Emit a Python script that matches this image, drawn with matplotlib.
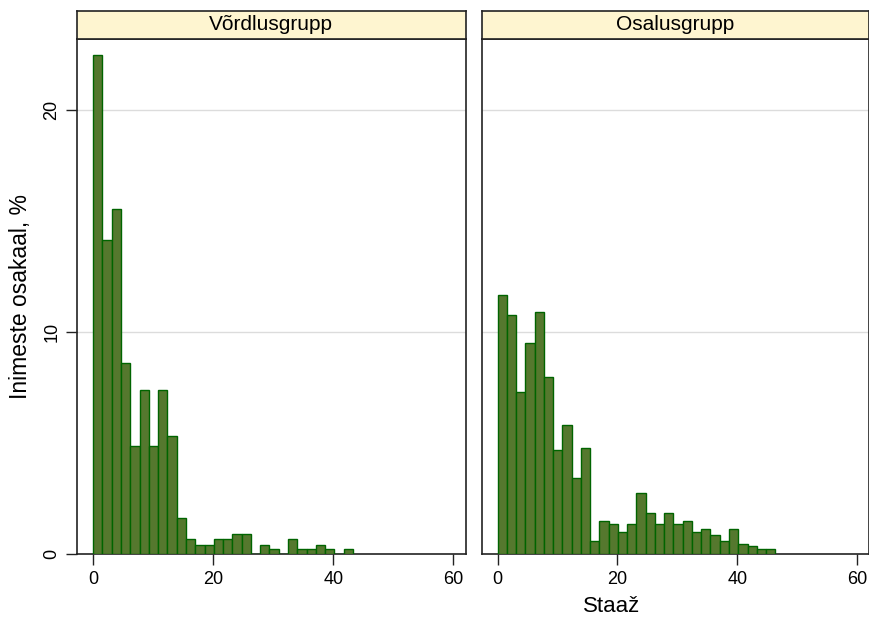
import numpy as np
import matplotlib.pyplot as plt

plt.rcParams['font.family'] = ['Liberation Sans', 'DejaVu Sans']

# histogram bins (same width in both panels, starting at 0)
bin_width = 1.545
vordlus = [22.5, 14.15, 15.55, 8.6, 4.88, 7.42, 4.88, 7.42, 5.33, 1.62,
           0.71, 0.44, 0.44, 0.71, 0.71, 0.93, 0.93, 0.0, 0.44, 0.22,
           0.0, 0.71, 0.22, 0.22, 0.44, 0.22, 0.0, 0.22]
osalus = [11.66, 10.78, 7.33, 9.51, 10.9, 7.99, 4.69, 5.82, 3.42, 4.81,
          0.61, 1.52, 1.37, 1.01, 1.37, 2.78, 1.88, 1.37, 1.88, 1.37,
          1.52, 1.01, 1.15, 0.87, 0.61, 1.15, 0.48, 0.36, 0.24, 0.24]
panels = ['Võrdlusgrupp', 'Osalusgrupp']
series = [vordlus, osalus]
xticks = [0, 20, 40, 60]
yticks = [0, 10, 20]

W, H = 869, 619
fig = plt.figure(figsize=(W / 100, H / 100), dpi=100)

lefts = [77, 481.5]
right_edges = [465.5, 869]
top_px, strip_top, bottom_px = 39.3, 10.7, 554.3
line_col = '#222222'

for i in range(2):
    x0 = lefts[i] / W
    w = (right_edges[i] - lefts[i]) / W
    ax = fig.add_axes([x0, (H - bottom_px) / H, w, (bottom_px - top_px) / H])
    vals = series[i]
    edges = np.arange(len(vals)) * bin_width
    ax.bar(edges, vals, width=bin_width, align='edge', color='#55782e',
           edgecolor='#006400', linewidth=1.0, zorder=3)
    ax.set_xlim(-2.7, 62)
    ax.set_ylim(0, 23.2)
    for yv in yticks[1:]:
        ax.axhline(yv, color='#dcdcdc', linewidth=1.0, zorder=1)
    ax.set_xticks(xticks)
    ax.set_xticklabels([str(t) for t in xticks], fontsize=13)
    ax.tick_params(axis='x', length=8, width=1, color=line_col, pad=4)
    if i == 0:
        ax.set_yticks(yticks)
        ax.set_yticklabels([str(t) for t in yticks], fontsize=13,
                           rotation=90, va='center')
        ax.tick_params(axis='y', length=8, width=1, color=line_col, pad=4)
        ax.set_ylabel('Inimeste osakaal, %', fontsize=16.5, labelpad=8)
    else:
        ax.set_yticks([])
    for s in ax.spines.values():
        s.set_color(line_col)
        s.set_linewidth(1.2)

    # strip with panel title
    sax = fig.add_axes([x0, (H - top_px) / H, w, (top_px - strip_top) / H])
    sax.set_facecolor('#fef5d0')
    sax.set_xticks([])
    sax.set_yticks([])
    for s in sax.spines.values():
        s.set_color(line_col)
        s.set_linewidth(1.2)
    sax.text(0.5, 0.5, panels[i], transform=sax.transAxes, ha='center',
             va='center', fontsize=15)

fig.text(612 / W, 1 - 607 / H, 'Staaž', ha='center', va='center', fontsize=16)

plt.savefig('out.png', dpi=100)
